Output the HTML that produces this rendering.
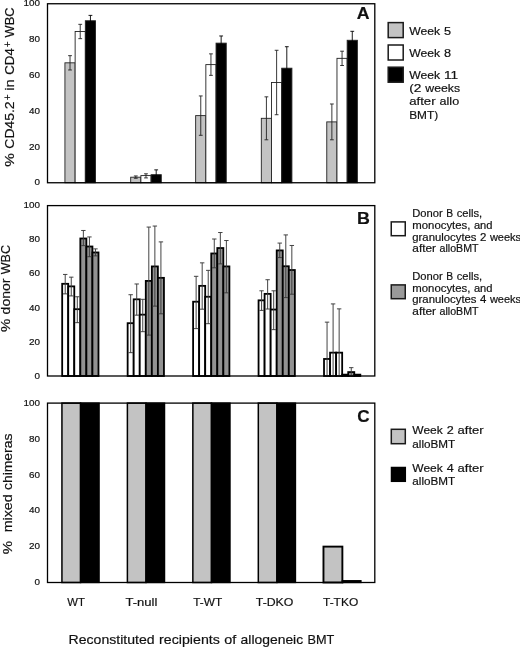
<!DOCTYPE html>
<html><head><meta charset="utf-8"><title>Figure</title>
<style>
html,body{margin:0;padding:0;background:#fff;}
svg{display:block;filter:grayscale(1);}
text{font-family:"Liberation Sans",sans-serif;fill:#111;stroke:#111;stroke-width:0.18px;}
</style></head><body>
<svg width="520" height="647" viewBox="0 0 520 647">
<rect x="0" y="0" width="520" height="647" fill="#ffffff"/>
<rect x="64.93" y="62.82" width="10.20" height="119.93" fill="#c3c3c3" stroke="#222" stroke-width="0.9"/>
<rect x="75.13" y="31.50" width="10.20" height="151.25" fill="#ffffff" stroke="#222" stroke-width="0.9"/>
<rect x="85.33" y="20.75" width="10.20" height="162.00" fill="#000000" stroke="#222" stroke-width="0.9"/>
<line x1="70.03" y1="69.98" x2="70.03" y2="55.66" stroke="#222" stroke-width="0.9"/>
<line x1="68.13" y1="55.66" x2="71.93" y2="55.66" stroke="#222" stroke-width="0.9"/>
<line x1="68.13" y1="69.98" x2="71.93" y2="69.98" stroke="#222" stroke-width="0.9"/>
<line x1="80.23" y1="38.66" x2="80.23" y2="24.34" stroke="#222" stroke-width="0.9"/>
<line x1="78.33" y1="24.34" x2="82.13" y2="24.34" stroke="#222" stroke-width="0.9"/>
<line x1="78.33" y1="38.66" x2="82.13" y2="38.66" stroke="#222" stroke-width="0.9"/>
<line x1="90.43" y1="26.12" x2="90.43" y2="15.38" stroke="#000" stroke-width="0.9"/>
<line x1="88.53" y1="15.38" x2="92.33" y2="15.38" stroke="#000" stroke-width="0.9"/>
<line x1="88.53" y1="26.12" x2="92.33" y2="26.12" stroke="#000" stroke-width="0.9"/>
<rect x="130.69" y="177.20" width="10.20" height="5.55" fill="#c3c3c3" stroke="#222" stroke-width="0.9"/>
<rect x="140.89" y="175.59" width="10.20" height="7.16" fill="#ffffff" stroke="#222" stroke-width="0.9"/>
<rect x="151.09" y="174.69" width="10.20" height="8.06" fill="#000000" stroke="#222" stroke-width="0.9"/>
<line x1="135.79" y1="178.28" x2="135.79" y2="175.95" stroke="#222" stroke-width="0.9"/>
<line x1="133.89" y1="175.95" x2="137.69" y2="175.95" stroke="#222" stroke-width="0.9"/>
<line x1="133.89" y1="178.28" x2="137.69" y2="178.28" stroke="#222" stroke-width="0.9"/>
<line x1="145.99" y1="177.92" x2="145.99" y2="173.80" stroke="#222" stroke-width="0.9"/>
<line x1="144.09" y1="173.80" x2="147.89" y2="173.80" stroke="#222" stroke-width="0.9"/>
<line x1="144.09" y1="177.92" x2="147.89" y2="177.92" stroke="#222" stroke-width="0.9"/>
<line x1="156.19" y1="177.38" x2="156.19" y2="169.86" stroke="#000" stroke-width="0.9"/>
<line x1="154.29" y1="169.86" x2="158.09" y2="169.86" stroke="#000" stroke-width="0.9"/>
<line x1="154.29" y1="177.38" x2="158.09" y2="177.38" stroke="#000" stroke-width="0.9"/>
<rect x="195.65" y="115.62" width="10.20" height="67.12" fill="#c3c3c3" stroke="#222" stroke-width="0.9"/>
<rect x="205.85" y="64.61" width="10.20" height="118.14" fill="#ffffff" stroke="#222" stroke-width="0.9"/>
<rect x="216.05" y="43.13" width="10.20" height="139.62" fill="#000000" stroke="#222" stroke-width="0.9"/>
<line x1="200.75" y1="135.31" x2="200.75" y2="95.94" stroke="#222" stroke-width="0.9"/>
<line x1="198.85" y1="95.94" x2="202.65" y2="95.94" stroke="#222" stroke-width="0.9"/>
<line x1="198.85" y1="135.31" x2="202.65" y2="135.31" stroke="#222" stroke-width="0.9"/>
<line x1="210.95" y1="75.35" x2="210.95" y2="53.87" stroke="#222" stroke-width="0.9"/>
<line x1="209.05" y1="53.87" x2="212.85" y2="53.87" stroke="#222" stroke-width="0.9"/>
<line x1="209.05" y1="75.35" x2="212.85" y2="75.35" stroke="#222" stroke-width="0.9"/>
<line x1="221.15" y1="50.29" x2="221.15" y2="35.97" stroke="#000" stroke-width="0.9"/>
<line x1="219.25" y1="35.97" x2="223.05" y2="35.97" stroke="#000" stroke-width="0.9"/>
<line x1="219.25" y1="50.29" x2="223.05" y2="50.29" stroke="#000" stroke-width="0.9"/>
<rect x="261.31" y="118.31" width="10.20" height="64.44" fill="#c3c3c3" stroke="#222" stroke-width="0.9"/>
<rect x="271.51" y="82.51" width="10.20" height="100.24" fill="#ffffff" stroke="#222" stroke-width="0.9"/>
<rect x="281.71" y="68.19" width="10.20" height="114.56" fill="#000000" stroke="#222" stroke-width="0.9"/>
<line x1="266.41" y1="139.79" x2="266.41" y2="96.83" stroke="#222" stroke-width="0.9"/>
<line x1="264.51" y1="96.83" x2="268.31" y2="96.83" stroke="#222" stroke-width="0.9"/>
<line x1="264.51" y1="139.79" x2="268.31" y2="139.79" stroke="#222" stroke-width="0.9"/>
<line x1="276.61" y1="114.73" x2="276.61" y2="50.29" stroke="#222" stroke-width="0.9"/>
<line x1="274.71" y1="50.29" x2="278.51" y2="50.29" stroke="#222" stroke-width="0.9"/>
<line x1="274.71" y1="114.73" x2="278.51" y2="114.73" stroke="#222" stroke-width="0.9"/>
<line x1="286.81" y1="89.67" x2="286.81" y2="46.71" stroke="#000" stroke-width="0.9"/>
<line x1="284.91" y1="46.71" x2="288.71" y2="46.71" stroke="#000" stroke-width="0.9"/>
<line x1="284.91" y1="89.67" x2="288.71" y2="89.67" stroke="#000" stroke-width="0.9"/>
<rect x="326.77" y="121.89" width="10.20" height="60.86" fill="#c3c3c3" stroke="#222" stroke-width="0.9"/>
<rect x="336.97" y="58.34" width="10.20" height="124.41" fill="#ffffff" stroke="#222" stroke-width="0.9"/>
<rect x="347.17" y="40.27" width="10.20" height="142.48" fill="#000000" stroke="#222" stroke-width="0.9"/>
<line x1="331.87" y1="139.79" x2="331.87" y2="103.99" stroke="#222" stroke-width="0.9"/>
<line x1="329.97" y1="103.99" x2="333.77" y2="103.99" stroke="#222" stroke-width="0.9"/>
<line x1="329.97" y1="139.79" x2="333.77" y2="139.79" stroke="#222" stroke-width="0.9"/>
<line x1="342.07" y1="65.50" x2="342.07" y2="51.19" stroke="#222" stroke-width="0.9"/>
<line x1="340.17" y1="51.19" x2="343.97" y2="51.19" stroke="#222" stroke-width="0.9"/>
<line x1="340.17" y1="65.50" x2="343.97" y2="65.50" stroke="#222" stroke-width="0.9"/>
<line x1="352.27" y1="49.22" x2="352.27" y2="31.32" stroke="#000" stroke-width="0.9"/>
<line x1="350.37" y1="31.32" x2="354.17" y2="31.32" stroke="#000" stroke-width="0.9"/>
<line x1="350.37" y1="49.22" x2="354.17" y2="49.22" stroke="#000" stroke-width="0.9"/>
<rect x="47.50" y="3.75" width="327.30" height="179.00" fill="none" stroke="#000" stroke-width="1.3"/>
<text x="34.40" y="185.45" font-size="9.00" font-weight="normal" textLength="5.50" lengthAdjust="spacingAndGlyphs">0</text>
<text x="28.90" y="149.65" font-size="9.00" font-weight="normal" textLength="11.00" lengthAdjust="spacingAndGlyphs">20</text>
<text x="28.90" y="113.85" font-size="9.00" font-weight="normal" textLength="11.00" lengthAdjust="spacingAndGlyphs">40</text>
<text x="28.90" y="78.05" font-size="9.00" font-weight="normal" textLength="11.00" lengthAdjust="spacingAndGlyphs">60</text>
<text x="28.90" y="42.25" font-size="9.00" font-weight="normal" textLength="11.00" lengthAdjust="spacingAndGlyphs">80</text>
<text x="23.40" y="6.45" font-size="9.00" font-weight="normal" textLength="16.50" lengthAdjust="spacingAndGlyphs">100</text>
<text x="356.80" y="18.70" font-size="17.20" font-weight="bold" textLength="12.80" lengthAdjust="spacingAndGlyphs" fill="#000" stroke="#000" stroke-width="0.45">A</text>
<rect x="388.20" y="22.60" width="15.00" height="15.00" fill="#c3c3c3" stroke="#1a1a1a" stroke-width="1.5"/>
<rect x="388.20" y="45.00" width="15.00" height="15.00" fill="#ffffff" stroke="#1a1a1a" stroke-width="1.5"/>
<rect x="388.20" y="67.20" width="15.00" height="15.00" fill="#000000" stroke="#1a1a1a" stroke-width="1.5"/>
<text x="409.20" y="35.00" font-size="11.20" font-weight="normal" textLength="30.92" lengthAdjust="spacingAndGlyphs">Week</text>
<text x="444.04" y="35.00" font-size="11.20" font-weight="normal" textLength="7.09" lengthAdjust="spacingAndGlyphs">5</text>
<text x="409.20" y="56.60" font-size="11.20" font-weight="normal" textLength="30.92" lengthAdjust="spacingAndGlyphs">Week</text>
<text x="444.04" y="56.60" font-size="11.20" font-weight="normal" textLength="7.09" lengthAdjust="spacingAndGlyphs">8</text>
<text x="409.20" y="78.70" font-size="11.20" font-weight="normal" textLength="30.92" lengthAdjust="spacingAndGlyphs">Week</text>
<text x="444.04" y="78.70" font-size="11.20" font-weight="normal" textLength="14.18" lengthAdjust="spacingAndGlyphs">11</text>
<text x="409.20" y="92.10" font-size="11.20" font-weight="normal" textLength="12.15" lengthAdjust="spacingAndGlyphs">(2</text>
<text x="425.28" y="92.10" font-size="11.20" font-weight="normal" textLength="34.82" lengthAdjust="spacingAndGlyphs">weeks</text>
<text x="409.20" y="105.40" font-size="11.20" font-weight="normal" textLength="26.43" lengthAdjust="spacingAndGlyphs">after</text>
<text x="439.55" y="105.40" font-size="11.20" font-weight="normal" textLength="19.58" lengthAdjust="spacingAndGlyphs">allo</text>
<text x="409.20" y="118.60" font-size="11.20" font-weight="normal" textLength="28.98" lengthAdjust="spacingAndGlyphs">BMT)</text>
<rect x="62.18" y="283.81" width="6.05" height="92.19" fill="#ffffff" stroke="#000" stroke-width="1.8"/>
<rect x="68.23" y="286.37" width="6.05" height="89.63" fill="#ffffff" stroke="#000" stroke-width="1.8"/>
<rect x="74.28" y="309.20" width="6.05" height="66.80" fill="#ffffff" stroke="#000" stroke-width="1.8"/>
<rect x="80.33" y="238.49" width="6.05" height="137.51" fill="#929292" stroke="#000" stroke-width="1.8"/>
<rect x="86.38" y="246.50" width="6.05" height="129.50" fill="#929292" stroke="#000" stroke-width="1.8"/>
<rect x="92.43" y="252.46" width="6.05" height="123.54" fill="#929292" stroke="#000" stroke-width="1.8"/>
<line x1="65.21" y1="293.87" x2="65.21" y2="274.44" stroke="#3a3a3a" stroke-width="0.95"/>
<line x1="63.01" y1="274.44" x2="67.41" y2="274.44" stroke="#3a3a3a" stroke-width="0.95"/>
<line x1="63.01" y1="293.87" x2="67.41" y2="293.87" stroke="#3a3a3a" stroke-width="0.95"/>
<line x1="71.26" y1="295.91" x2="71.26" y2="277.17" stroke="#3a3a3a" stroke-width="0.95"/>
<line x1="69.06" y1="277.17" x2="73.46" y2="277.17" stroke="#3a3a3a" stroke-width="0.95"/>
<line x1="69.06" y1="295.91" x2="73.46" y2="295.91" stroke="#3a3a3a" stroke-width="0.95"/>
<line x1="77.31" y1="322.66" x2="77.31" y2="296.76" stroke="#3a3a3a" stroke-width="0.95"/>
<line x1="75.11" y1="296.76" x2="79.51" y2="296.76" stroke="#3a3a3a" stroke-width="0.95"/>
<line x1="75.11" y1="322.66" x2="79.51" y2="322.66" stroke="#3a3a3a" stroke-width="0.95"/>
<line x1="83.36" y1="245.64" x2="83.36" y2="230.48" stroke="#3a3a3a" stroke-width="0.95"/>
<line x1="81.16" y1="230.48" x2="85.56" y2="230.48" stroke="#3a3a3a" stroke-width="0.95"/>
<line x1="81.16" y1="245.64" x2="85.56" y2="245.64" stroke="#3a3a3a" stroke-width="0.95"/>
<line x1="89.41" y1="256.72" x2="89.41" y2="236.95" stroke="#3a3a3a" stroke-width="0.95"/>
<line x1="87.21" y1="236.95" x2="91.61" y2="236.95" stroke="#3a3a3a" stroke-width="0.95"/>
<line x1="87.21" y1="256.72" x2="91.61" y2="256.72" stroke="#3a3a3a" stroke-width="0.95"/>
<line x1="95.46" y1="255.87" x2="95.46" y2="248.88" stroke="#3a3a3a" stroke-width="0.95"/>
<line x1="93.26" y1="248.88" x2="97.66" y2="248.88" stroke="#3a3a3a" stroke-width="0.95"/>
<line x1="93.26" y1="255.87" x2="97.66" y2="255.87" stroke="#3a3a3a" stroke-width="0.95"/>
<rect x="127.64" y="323.18" width="6.05" height="52.82" fill="#ffffff" stroke="#000" stroke-width="1.8"/>
<rect x="133.69" y="299.32" width="6.05" height="76.68" fill="#ffffff" stroke="#000" stroke-width="1.8"/>
<rect x="139.74" y="314.66" width="6.05" height="61.34" fill="#ffffff" stroke="#000" stroke-width="1.8"/>
<rect x="145.79" y="280.92" width="6.05" height="95.08" fill="#929292" stroke="#000" stroke-width="1.8"/>
<rect x="151.84" y="266.43" width="6.05" height="109.57" fill="#929292" stroke="#000" stroke-width="1.8"/>
<rect x="157.89" y="277.85" width="6.05" height="98.15" fill="#929292" stroke="#000" stroke-width="1.8"/>
<line x1="130.66" y1="352.66" x2="130.66" y2="294.72" stroke="#3a3a3a" stroke-width="0.95"/>
<line x1="128.47" y1="294.72" x2="132.86" y2="294.72" stroke="#3a3a3a" stroke-width="0.95"/>
<line x1="128.47" y1="352.66" x2="132.86" y2="352.66" stroke="#3a3a3a" stroke-width="0.95"/>
<line x1="136.72" y1="315.17" x2="136.72" y2="283.98" stroke="#3a3a3a" stroke-width="0.95"/>
<line x1="134.52" y1="283.98" x2="138.91" y2="283.98" stroke="#3a3a3a" stroke-width="0.95"/>
<line x1="134.52" y1="315.17" x2="138.91" y2="315.17" stroke="#3a3a3a" stroke-width="0.95"/>
<line x1="142.76" y1="331.70" x2="142.76" y2="299.32" stroke="#3a3a3a" stroke-width="0.95"/>
<line x1="140.56" y1="299.32" x2="144.96" y2="299.32" stroke="#3a3a3a" stroke-width="0.95"/>
<line x1="140.56" y1="331.70" x2="144.96" y2="331.70" stroke="#3a3a3a" stroke-width="0.95"/>
<line x1="148.81" y1="335.10" x2="148.81" y2="227.07" stroke="#3a3a3a" stroke-width="0.95"/>
<line x1="146.62" y1="227.07" x2="151.01" y2="227.07" stroke="#3a3a3a" stroke-width="0.95"/>
<line x1="146.62" y1="335.10" x2="151.01" y2="335.10" stroke="#3a3a3a" stroke-width="0.95"/>
<line x1="154.86" y1="306.14" x2="154.86" y2="226.05" stroke="#3a3a3a" stroke-width="0.95"/>
<line x1="152.66" y1="226.05" x2="157.06" y2="226.05" stroke="#3a3a3a" stroke-width="0.95"/>
<line x1="152.66" y1="306.14" x2="157.06" y2="306.14" stroke="#3a3a3a" stroke-width="0.95"/>
<line x1="160.91" y1="313.80" x2="160.91" y2="241.90" stroke="#3a3a3a" stroke-width="0.95"/>
<line x1="158.72" y1="241.90" x2="163.11" y2="241.90" stroke="#3a3a3a" stroke-width="0.95"/>
<line x1="158.72" y1="313.80" x2="163.11" y2="313.80" stroke="#3a3a3a" stroke-width="0.95"/>
<rect x="193.10" y="301.71" width="6.05" height="74.29" fill="#ffffff" stroke="#000" stroke-width="1.8"/>
<rect x="199.15" y="285.86" width="6.05" height="90.14" fill="#ffffff" stroke="#000" stroke-width="1.8"/>
<rect x="205.20" y="296.76" width="6.05" height="79.24" fill="#ffffff" stroke="#000" stroke-width="1.8"/>
<rect x="211.25" y="253.48" width="6.05" height="122.52" fill="#929292" stroke="#000" stroke-width="1.8"/>
<rect x="217.30" y="248.03" width="6.05" height="127.97" fill="#929292" stroke="#000" stroke-width="1.8"/>
<rect x="223.35" y="266.43" width="6.05" height="109.57" fill="#929292" stroke="#000" stroke-width="1.8"/>
<line x1="196.13" y1="328.63" x2="196.13" y2="276.32" stroke="#3a3a3a" stroke-width="0.95"/>
<line x1="193.93" y1="276.32" x2="198.33" y2="276.32" stroke="#3a3a3a" stroke-width="0.95"/>
<line x1="193.93" y1="328.63" x2="198.33" y2="328.63" stroke="#3a3a3a" stroke-width="0.95"/>
<line x1="202.18" y1="309.20" x2="202.18" y2="262.85" stroke="#3a3a3a" stroke-width="0.95"/>
<line x1="199.98" y1="262.85" x2="204.38" y2="262.85" stroke="#3a3a3a" stroke-width="0.95"/>
<line x1="199.98" y1="309.20" x2="204.38" y2="309.20" stroke="#3a3a3a" stroke-width="0.95"/>
<line x1="208.23" y1="323.69" x2="208.23" y2="270.35" stroke="#3a3a3a" stroke-width="0.95"/>
<line x1="206.03" y1="270.35" x2="210.43" y2="270.35" stroke="#3a3a3a" stroke-width="0.95"/>
<line x1="206.03" y1="323.69" x2="210.43" y2="323.69" stroke="#3a3a3a" stroke-width="0.95"/>
<line x1="214.28" y1="267.80" x2="214.28" y2="239.00" stroke="#3a3a3a" stroke-width="0.95"/>
<line x1="212.08" y1="239.00" x2="216.48" y2="239.00" stroke="#3a3a3a" stroke-width="0.95"/>
<line x1="212.08" y1="267.80" x2="216.48" y2="267.80" stroke="#3a3a3a" stroke-width="0.95"/>
<line x1="220.33" y1="263.88" x2="220.33" y2="232.52" stroke="#3a3a3a" stroke-width="0.95"/>
<line x1="218.13" y1="232.52" x2="222.53" y2="232.52" stroke="#3a3a3a" stroke-width="0.95"/>
<line x1="218.13" y1="263.88" x2="222.53" y2="263.88" stroke="#3a3a3a" stroke-width="0.95"/>
<line x1="226.38" y1="292.84" x2="226.38" y2="240.53" stroke="#3a3a3a" stroke-width="0.95"/>
<line x1="224.18" y1="240.53" x2="228.58" y2="240.53" stroke="#3a3a3a" stroke-width="0.95"/>
<line x1="224.18" y1="292.84" x2="228.58" y2="292.84" stroke="#3a3a3a" stroke-width="0.95"/>
<rect x="258.56" y="300.34" width="6.05" height="75.66" fill="#ffffff" stroke="#000" stroke-width="1.8"/>
<rect x="264.61" y="293.87" width="6.05" height="82.13" fill="#ffffff" stroke="#000" stroke-width="1.8"/>
<rect x="270.66" y="309.54" width="6.05" height="66.46" fill="#ffffff" stroke="#000" stroke-width="1.8"/>
<rect x="276.71" y="250.42" width="6.05" height="125.58" fill="#929292" stroke="#000" stroke-width="1.8"/>
<rect x="282.76" y="266.26" width="6.05" height="109.74" fill="#929292" stroke="#000" stroke-width="1.8"/>
<rect x="288.81" y="270.01" width="6.05" height="105.99" fill="#929292" stroke="#000" stroke-width="1.8"/>
<line x1="261.59" y1="310.40" x2="261.59" y2="290.80" stroke="#3a3a3a" stroke-width="0.95"/>
<line x1="259.39" y1="290.80" x2="263.79" y2="290.80" stroke="#3a3a3a" stroke-width="0.95"/>
<line x1="259.39" y1="310.40" x2="263.79" y2="310.40" stroke="#3a3a3a" stroke-width="0.95"/>
<line x1="267.64" y1="309.03" x2="267.64" y2="279.72" stroke="#3a3a3a" stroke-width="0.95"/>
<line x1="265.44" y1="279.72" x2="269.84" y2="279.72" stroke="#3a3a3a" stroke-width="0.95"/>
<line x1="265.44" y1="309.03" x2="269.84" y2="309.03" stroke="#3a3a3a" stroke-width="0.95"/>
<line x1="273.69" y1="329.65" x2="273.69" y2="290.80" stroke="#3a3a3a" stroke-width="0.95"/>
<line x1="271.49" y1="290.80" x2="275.89" y2="290.80" stroke="#3a3a3a" stroke-width="0.95"/>
<line x1="271.49" y1="329.65" x2="275.89" y2="329.65" stroke="#3a3a3a" stroke-width="0.95"/>
<line x1="279.74" y1="257.57" x2="279.74" y2="243.09" stroke="#3a3a3a" stroke-width="0.95"/>
<line x1="277.54" y1="243.09" x2="281.94" y2="243.09" stroke="#3a3a3a" stroke-width="0.95"/>
<line x1="277.54" y1="257.57" x2="281.94" y2="257.57" stroke="#3a3a3a" stroke-width="0.95"/>
<line x1="285.79" y1="297.62" x2="285.79" y2="234.91" stroke="#3a3a3a" stroke-width="0.95"/>
<line x1="283.59" y1="234.91" x2="287.99" y2="234.91" stroke="#3a3a3a" stroke-width="0.95"/>
<line x1="283.59" y1="297.62" x2="287.99" y2="297.62" stroke="#3a3a3a" stroke-width="0.95"/>
<line x1="291.84" y1="294.21" x2="291.84" y2="245.47" stroke="#3a3a3a" stroke-width="0.95"/>
<line x1="289.64" y1="245.47" x2="294.04" y2="245.47" stroke="#3a3a3a" stroke-width="0.95"/>
<line x1="289.64" y1="294.21" x2="294.04" y2="294.21" stroke="#3a3a3a" stroke-width="0.95"/>
<rect x="324.02" y="358.96" width="6.05" height="17.04" fill="#ffffff" stroke="#000" stroke-width="1.8"/>
<rect x="330.07" y="352.66" width="6.05" height="23.34" fill="#ffffff" stroke="#000" stroke-width="1.8"/>
<rect x="336.12" y="352.66" width="6.05" height="23.34" fill="#ffffff" stroke="#000" stroke-width="1.8"/>
<rect x="342.17" y="374.64" width="6.05" height="1.36" fill="#929292" stroke="#000" stroke-width="1.8"/>
<rect x="348.22" y="372.08" width="6.05" height="3.92" fill="#929292" stroke="#000" stroke-width="1.8"/>
<rect x="354.27" y="374.64" width="6.05" height="1.36" fill="#929292" stroke="#000" stroke-width="1.8"/>
<line x1="327.05" y1="376.00" x2="327.05" y2="322.15" stroke="#3a3a3a" stroke-width="0.95"/>
<line x1="324.85" y1="322.15" x2="329.25" y2="322.15" stroke="#3a3a3a" stroke-width="0.95"/>
<line x1="324.85" y1="376.00" x2="329.25" y2="376.00" stroke="#3a3a3a" stroke-width="0.95"/>
<line x1="333.10" y1="376.00" x2="333.10" y2="303.92" stroke="#3a3a3a" stroke-width="0.95"/>
<line x1="330.90" y1="303.92" x2="335.30" y2="303.92" stroke="#3a3a3a" stroke-width="0.95"/>
<line x1="330.90" y1="376.00" x2="335.30" y2="376.00" stroke="#3a3a3a" stroke-width="0.95"/>
<line x1="339.15" y1="376.00" x2="339.15" y2="308.86" stroke="#3a3a3a" stroke-width="0.95"/>
<line x1="336.95" y1="308.86" x2="341.35" y2="308.86" stroke="#3a3a3a" stroke-width="0.95"/>
<line x1="336.95" y1="376.00" x2="341.35" y2="376.00" stroke="#3a3a3a" stroke-width="0.95"/>
<line x1="351.25" y1="375.49" x2="351.25" y2="367.65" stroke="#3a3a3a" stroke-width="0.95"/>
<line x1="349.05" y1="367.65" x2="353.45" y2="367.65" stroke="#3a3a3a" stroke-width="0.95"/>
<line x1="349.05" y1="375.49" x2="353.45" y2="375.49" stroke="#3a3a3a" stroke-width="0.95"/>
<rect x="47.50" y="205.60" width="327.30" height="170.40" fill="none" stroke="#000" stroke-width="1.3"/>
<text x="34.40" y="378.70" font-size="9.00" font-weight="normal" textLength="5.50" lengthAdjust="spacingAndGlyphs">0</text>
<text x="28.90" y="344.62" font-size="9.00" font-weight="normal" textLength="11.00" lengthAdjust="spacingAndGlyphs">20</text>
<text x="28.90" y="310.54" font-size="9.00" font-weight="normal" textLength="11.00" lengthAdjust="spacingAndGlyphs">40</text>
<text x="28.90" y="276.46" font-size="9.00" font-weight="normal" textLength="11.00" lengthAdjust="spacingAndGlyphs">60</text>
<text x="28.90" y="242.38" font-size="9.00" font-weight="normal" textLength="11.00" lengthAdjust="spacingAndGlyphs">80</text>
<text x="23.40" y="208.30" font-size="9.00" font-weight="normal" textLength="16.50" lengthAdjust="spacingAndGlyphs">100</text>
<text x="357.00" y="224.10" font-size="17.20" font-weight="bold" textLength="12.90" lengthAdjust="spacingAndGlyphs" fill="#000" stroke="#000" stroke-width="0.45">B</text>
<rect x="391.25" y="221.90" width="14.00" height="13.80" fill="#ffffff" stroke="#1a1a1a" stroke-width="1.5"/>
<rect x="391.25" y="284.90" width="14.00" height="13.80" fill="#9a9a9a" stroke="#1a1a1a" stroke-width="1.5"/>
<text x="412.30" y="216.90" font-size="10.20" font-weight="normal" textLength="30.45" lengthAdjust="spacingAndGlyphs">Donor</text>
<text x="446.27" y="216.90" font-size="10.20" font-weight="normal" textLength="6.86" lengthAdjust="spacingAndGlyphs">B</text>
<text x="456.65" y="216.90" font-size="10.20" font-weight="normal" textLength="25.50" lengthAdjust="spacingAndGlyphs">cells,</text>
<text x="412.30" y="228.75" font-size="10.20" font-weight="normal" textLength="58.08" lengthAdjust="spacingAndGlyphs">monocytes,</text>
<text x="473.90" y="228.75" font-size="10.20" font-weight="normal" textLength="18.57" lengthAdjust="spacingAndGlyphs">and</text>
<text x="412.30" y="240.60" font-size="10.20" font-weight="normal" textLength="64.22" lengthAdjust="spacingAndGlyphs">granulocytes</text>
<text x="480.04" y="240.60" font-size="10.20" font-weight="normal" textLength="6.36" lengthAdjust="spacingAndGlyphs">2</text>
<text x="489.92" y="240.60" font-size="10.20" font-weight="normal" textLength="31.23" lengthAdjust="spacingAndGlyphs">weeks</text>
<text x="412.30" y="252.45" font-size="10.20" font-weight="normal" textLength="23.70" lengthAdjust="spacingAndGlyphs">after</text>
<text x="439.52" y="252.45" font-size="10.20" font-weight="normal" textLength="39.01" lengthAdjust="spacingAndGlyphs">alloBMT</text>
<text x="412.30" y="279.70" font-size="10.20" font-weight="normal" textLength="30.45" lengthAdjust="spacingAndGlyphs">Donor</text>
<text x="446.27" y="279.70" font-size="10.20" font-weight="normal" textLength="6.86" lengthAdjust="spacingAndGlyphs">B</text>
<text x="456.65" y="279.70" font-size="10.20" font-weight="normal" textLength="25.50" lengthAdjust="spacingAndGlyphs">cells,</text>
<text x="412.30" y="291.55" font-size="10.20" font-weight="normal" textLength="58.08" lengthAdjust="spacingAndGlyphs">monocytes,</text>
<text x="473.90" y="291.55" font-size="10.20" font-weight="normal" textLength="18.57" lengthAdjust="spacingAndGlyphs">and</text>
<text x="412.30" y="303.40" font-size="10.20" font-weight="normal" textLength="64.22" lengthAdjust="spacingAndGlyphs">granulocytes</text>
<text x="480.04" y="303.40" font-size="10.20" font-weight="normal" textLength="6.36" lengthAdjust="spacingAndGlyphs">4</text>
<text x="489.92" y="303.40" font-size="10.20" font-weight="normal" textLength="31.23" lengthAdjust="spacingAndGlyphs">weeks</text>
<text x="412.30" y="315.25" font-size="10.20" font-weight="normal" textLength="23.70" lengthAdjust="spacingAndGlyphs">after</text>
<text x="439.52" y="315.25" font-size="10.20" font-weight="normal" textLength="39.01" lengthAdjust="spacingAndGlyphs">alloBMT</text>
<rect x="61.93" y="403.10" width="18.60" height="179.40" fill="#c3c3c3" stroke="#000" stroke-width="1.5"/>
<rect x="80.53" y="403.10" width="18.60" height="179.40" fill="#000000" stroke="#000" stroke-width="1.3"/>
<rect x="127.39" y="403.10" width="18.60" height="179.40" fill="#c3c3c3" stroke="#000" stroke-width="1.5"/>
<rect x="145.99" y="403.10" width="18.60" height="179.40" fill="#000000" stroke="#000" stroke-width="1.3"/>
<rect x="192.85" y="403.10" width="18.60" height="179.40" fill="#c3c3c3" stroke="#000" stroke-width="1.5"/>
<rect x="211.45" y="403.10" width="18.60" height="179.40" fill="#000000" stroke="#000" stroke-width="1.3"/>
<rect x="258.31" y="403.10" width="18.60" height="179.40" fill="#c3c3c3" stroke="#000" stroke-width="1.5"/>
<rect x="276.91" y="403.10" width="18.60" height="179.40" fill="#000000" stroke="#000" stroke-width="1.3"/>
<rect x="323.47" y="546.62" width="18.90" height="35.88" fill="#c3c3c3" stroke="#000" stroke-width="1.9"/>
<rect x="342.37" y="580.71" width="18.60" height="1.79" fill="#000000" stroke="#000" stroke-width="1.3"/>
<rect x="47.50" y="403.10" width="327.30" height="179.40" fill="none" stroke="#000" stroke-width="1.3"/>
<text x="34.40" y="585.20" font-size="9.00" font-weight="normal" textLength="5.50" lengthAdjust="spacingAndGlyphs">0</text>
<text x="28.90" y="549.32" font-size="9.00" font-weight="normal" textLength="11.00" lengthAdjust="spacingAndGlyphs">20</text>
<text x="28.90" y="513.44" font-size="9.00" font-weight="normal" textLength="11.00" lengthAdjust="spacingAndGlyphs">40</text>
<text x="28.90" y="477.56" font-size="9.00" font-weight="normal" textLength="11.00" lengthAdjust="spacingAndGlyphs">60</text>
<text x="28.90" y="441.68" font-size="9.00" font-weight="normal" textLength="11.00" lengthAdjust="spacingAndGlyphs">80</text>
<text x="23.40" y="405.80" font-size="9.00" font-weight="normal" textLength="16.50" lengthAdjust="spacingAndGlyphs">100</text>
<text x="357.30" y="422.00" font-size="17.20" font-weight="bold" textLength="12.40" lengthAdjust="spacingAndGlyphs" fill="#000" stroke="#000" stroke-width="0.45">C</text>
<rect x="391.30" y="429.30" width="14.00" height="14.40" fill="#c3c3c3" stroke="#1a1a1a" stroke-width="1.5"/>
<rect x="391.40" y="467.40" width="14.00" height="14.00" fill="#000" stroke="#000" stroke-width="1.3"/>
<text x="412.30" y="433.90" font-size="11.20" font-weight="normal" textLength="30.50" lengthAdjust="spacingAndGlyphs">Week</text>
<text x="446.68" y="433.90" font-size="11.20" font-weight="normal" textLength="7.00" lengthAdjust="spacingAndGlyphs">2</text>
<text x="457.54" y="433.90" font-size="11.20" font-weight="normal" textLength="26.07" lengthAdjust="spacingAndGlyphs">after</text>
<text x="412.30" y="447.60" font-size="11.20" font-weight="normal" textLength="42.91" lengthAdjust="spacingAndGlyphs">alloBMT</text>
<text x="412.30" y="471.50" font-size="11.20" font-weight="normal" textLength="30.50" lengthAdjust="spacingAndGlyphs">Week</text>
<text x="446.68" y="471.50" font-size="11.20" font-weight="normal" textLength="7.00" lengthAdjust="spacingAndGlyphs">4</text>
<text x="457.54" y="471.50" font-size="11.20" font-weight="normal" textLength="26.07" lengthAdjust="spacingAndGlyphs">after</text>
<text x="412.30" y="485.30" font-size="11.20" font-weight="normal" textLength="42.91" lengthAdjust="spacingAndGlyphs">alloBMT</text>
<text x="67.30" y="605.80" font-size="11.10" font-weight="normal" textLength="17.60" lengthAdjust="spacingAndGlyphs">WT</text>
<text x="125.40" y="605.80" font-size="11.10" font-weight="normal" textLength="32.00" lengthAdjust="spacingAndGlyphs">T-null</text>
<text x="193.30" y="605.80" font-size="11.10" font-weight="normal" textLength="28.90" lengthAdjust="spacingAndGlyphs">T-WT</text>
<text x="255.80" y="605.80" font-size="11.10" font-weight="normal" textLength="37.60" lengthAdjust="spacingAndGlyphs">T-DKO</text>
<text x="323.00" y="605.80" font-size="11.10" font-weight="normal" textLength="35.20" lengthAdjust="spacingAndGlyphs">T-TKO</text>
<text x="68.60" y="644.20" font-size="12.60" font-weight="normal" textLength="86.07" lengthAdjust="spacingAndGlyphs">Reconstituted</text>
<text x="159.07" y="644.20" font-size="12.60" font-weight="normal" textLength="60.77" lengthAdjust="spacingAndGlyphs">recipients</text>
<text x="224.25" y="644.20" font-size="12.60" font-weight="normal" textLength="11.99" lengthAdjust="spacingAndGlyphs">of</text>
<text x="240.64" y="644.20" font-size="12.60" font-weight="normal" textLength="62.53" lengthAdjust="spacingAndGlyphs">allogeneic</text>
<text x="307.57" y="644.20" font-size="12.60" font-weight="normal" textLength="26.83" lengthAdjust="spacingAndGlyphs">BMT</text>
<g transform="translate(13.70,87.10) rotate(-90)">
<text x="-79.64" y="0" font-size="13.70" textLength="13.61" lengthAdjust="spacingAndGlyphs">%</text>
<text x="-61.58" y="0" font-size="13.70" textLength="47.32" lengthAdjust="spacingAndGlyphs">CD45.2</text>
<text x="-13.27" y="-2.4" font-size="10.00">+</text>
<text x="-3.59" y="0" font-size="13.70" textLength="11.47" lengthAdjust="spacingAndGlyphs">in</text>
<text x="12.33" y="0" font-size="13.70" textLength="26.63" lengthAdjust="spacingAndGlyphs">CD4</text>
<text x="39.95" y="-2.4" font-size="10.00">+</text>
<text x="49.62" y="0" font-size="13.70" textLength="30.02" lengthAdjust="spacingAndGlyphs">WBC</text>
</g>
<g transform="translate(9.70,288.50) rotate(-90)">
<text x="-43.53" y="0" font-size="13.70" textLength="13.29" lengthAdjust="spacingAndGlyphs">%</text>
<text x="-25.90" y="0" font-size="13.70" textLength="35.78" lengthAdjust="spacingAndGlyphs">donor</text>
<text x="14.23" y="0" font-size="13.70" textLength="29.31" lengthAdjust="spacingAndGlyphs">WBC</text>
</g>
<g transform="translate(12.00,494.00) rotate(-90)">
<text x="-60.36" y="0" font-size="13.70" textLength="13.34" lengthAdjust="spacingAndGlyphs">%</text>
<text x="-38.29" y="0" font-size="13.70" textLength="37.92" lengthAdjust="spacingAndGlyphs">mixed</text>
<text x="3.99" y="0" font-size="13.70" textLength="56.37" lengthAdjust="spacingAndGlyphs">chimeras</text>
</g>
</svg>
</body></html>
